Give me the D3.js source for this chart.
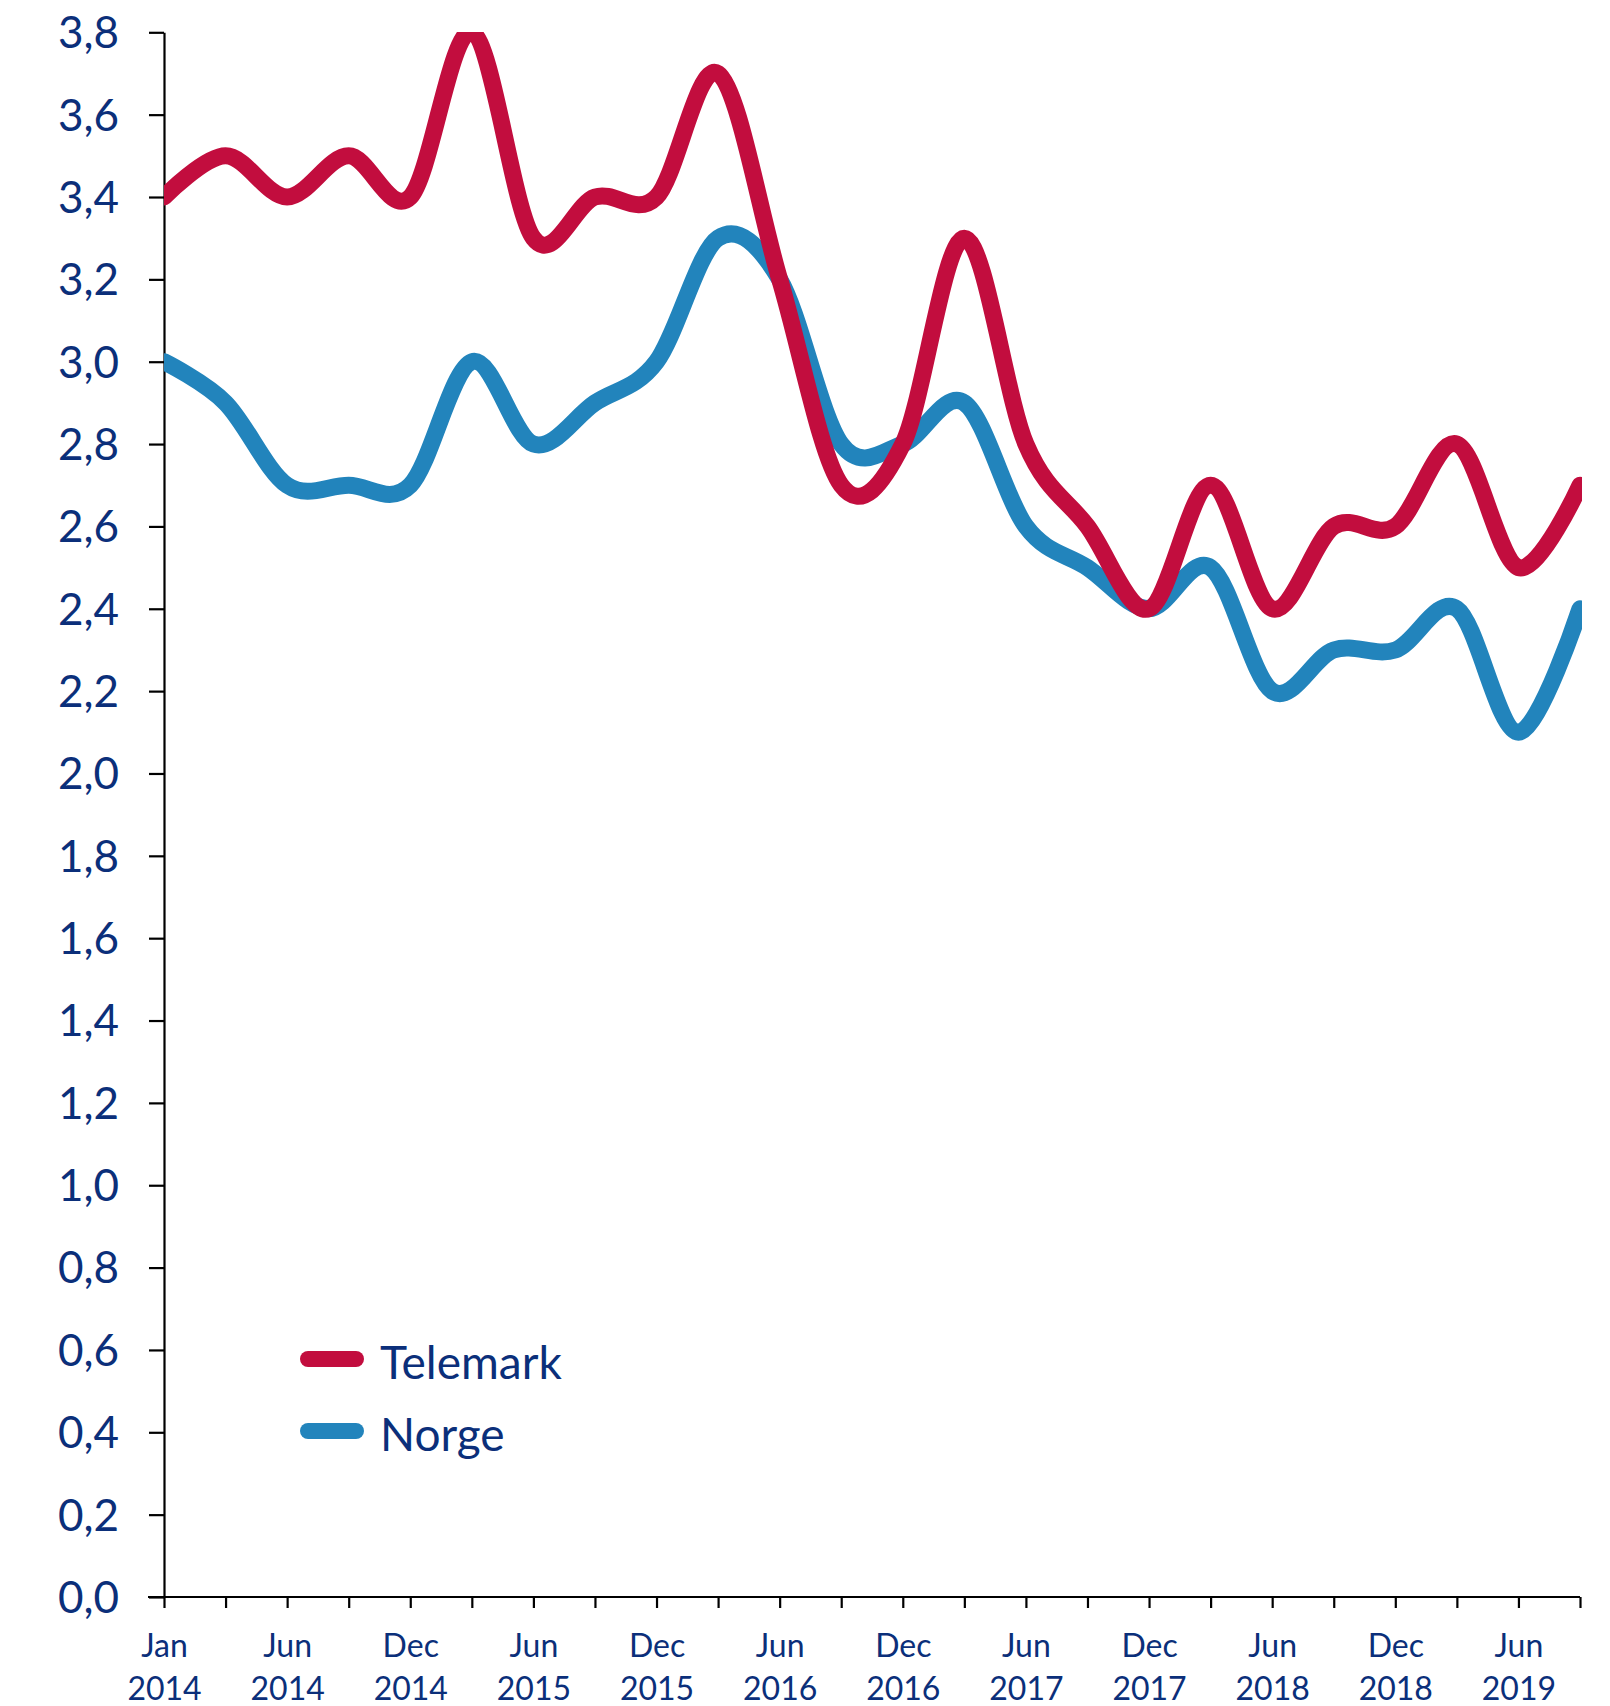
<!DOCTYPE html>
<html>
<head>
<meta charset="utf-8">
<script src="https://cdn.jsdelivr.net/npm/d3@7/dist/d3.min.js"></script>
<style>
  body { margin: 0; background: #fff; }
  svg text { font-family: Lato, "Open Sans", sans-serif; fill: #0b2f7a; }
</style>
</head>
<body>
<div id="chart"></div>
<script>
// kvartalsvise kategorier, annenhver vises
const categories = [
  "Jan 2014", "Mar 2014", "Jun 2014", "Sep 2014", "Dec 2014",
  "Mar 2015", "Jun 2015", "Sep 2015", "Dec 2015",
  "Mar 2016", "Jun 2016", "Sep 2016", "Dec 2016",
  "Mar 2017", "Jun 2017", "Sep 2017", "Dec 2017",
  "Mar 2018", "Jun 2018", "Sep 2018", "Dec 2018",
  "Mar 2019", "Jun 2019", "Sep 2019"
];
const telemark = [3.4, 3.5, 3.4, 3.5, 3.4, 3.8, 3.3, 3.4, 3.4, 3.7, 3.2, 2.7,
                  2.8, 3.3, 2.8, 2.6, 2.4, 2.7, 2.4, 2.6, 2.6, 2.8, 2.5, 2.7];
const norge    = [3.0, 2.9, 2.7, 2.7, 2.7, 3.0, 2.8, 2.9, 3.0, 3.3, 3.2, 2.8,
                  2.8, 2.9, 2.6, 2.5, 2.4, 2.5, 2.2, 2.3, 2.3, 2.4, 2.1, 2.4];
const yTicks = d3.range(0, 3.81, 0.2);

const W = 1610, H = 1706;
const svg = d3.select("#chart").append("svg").attr("width", W).attr("height", H);

const x = d3.scalePoint().domain(categories).range([164, 1580]);
const y = d3.scaleLinear().domain([0, 3.8]).range([1597, 32.3]);

// plotteområdet klipper linjene
svg.append("clipPath").attr("id", "plot")
  .append("rect").attr("x", 164).attr("y", 32).attr("width", 1418).attr("height", 1565);

// y-akse
const yAxis = svg.append("g").attr("transform", "translate(164,0)")
  .call(d3.axisLeft(y).tickValues(yTicks).tickSize(15).tickPadding(30).tickSizeOuter(0)
    .tickFormat(d => d3.format(".1f")(d).replace(".", ",")));
yAxis.selectAll("text").attr("font-size", 44).attr("dy", "0.35em");

// x-akse
const xAxis = svg.append("g").attr("transform", "translate(0,1597)")
  .call(d3.axisBottom(x).tickSize(11).tickSizeOuter(0).tickFormat(""));
xAxis.selectAll(".tick").each(function(d, i) {
  if (i % 2) return;
  const parts = d.split(" ");
  const t = d3.select(this).append("text").attr("text-anchor", "middle").attr("font-size", 32);
  t.append("tspan").attr("x", 0).attr("y", 60).text(parts[0]);
  t.append("tspan").attr("x", 0).attr("y", 103).text(parts[1]);
});
svg.selectAll(".domain, .tick line").attr("stroke", "#000").attr("stroke-width", 2.2);
xAxis.select(".domain").attr("d", "M148,0H1580");

const line = d3.line()
  .x((d, i) => x(categories[i]))
  .y(d => y(d))
  .curve(d3.curveCatmullRom.alpha(0));

const series = [
  { name: "Telemark", values: telemark, color: "#c20d3e" },
  { name: "Norge", values: norge, color: "#2284bc" }
];

svg.append("g").attr("clip-path", "url(#plot)")
  .selectAll("path").data(series.slice().reverse()).join("path")
  .attr("d", s => line(s.values))
  .attr("fill", "none")
  .attr("stroke", s => s.color)
  .attr("stroke-width", 17)
  .attr("stroke-linecap", "round")
  .attr("stroke-linejoin", "round");

// legende
const leg = svg.append("g").selectAll("g").data(series).join("g")
  .attr("transform", (d, i) => `translate(0,${1359 + i * 72})`);
leg.append("line").attr("x1", 308).attr("x2", 356).attr("y1", 0).attr("y2", 0)
  .attr("stroke", d => d.color).attr("stroke-width", 16).attr("stroke-linecap", "round");
leg.append("text").attr("x", 380).attr("y", 20).attr("font-size", 46).text(d => d.name);
</script>
</body>
</html>
